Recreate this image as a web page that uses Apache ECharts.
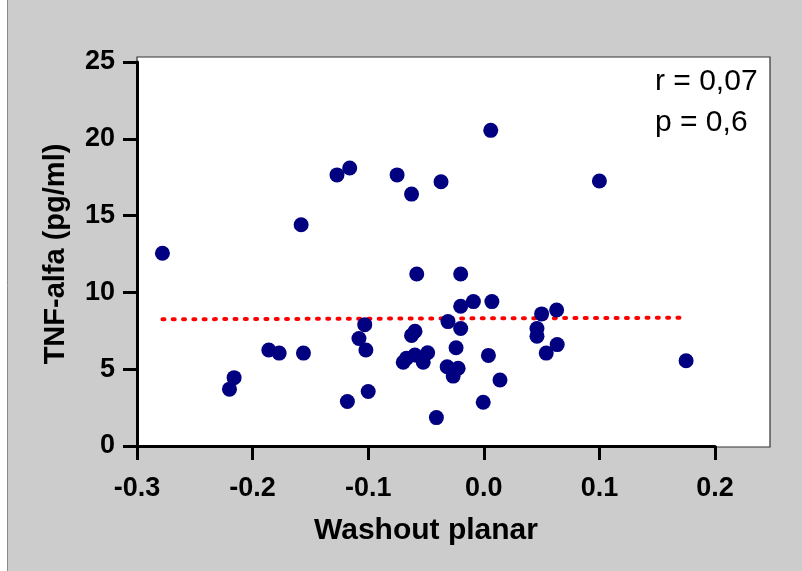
<!DOCTYPE html>
<html>
<head>
<meta charset="utf-8">
<script src="https://cdn.jsdelivr.net/npm/echarts@6/dist/echarts.min.js"></script>
<style>
html,body{margin:0;padding:0;background:#fff;}
#chart{width:802px;height:571px;}
</style>
</head>
<body>
<div id="chart"></div>
<script>
// Washout planar (x) vs TNF-alfa (pg/ml) (y)
const washout = [
  -0.278, -0.158, -0.127, -0.116, -0.075, -0.0625, -0.037, 0.006, 0.100,
  -0.058, -0.020, -0.103, -0.108, -0.102, -0.186, -0.177, -0.156, -0.216,
  -0.220, -0.118, -0.100, -0.041, -0.031, -0.0625, -0.0595, -0.0697, -0.0668,
  -0.0596, -0.0524, -0.0486, -0.0317, -0.0222, -0.0265, -0.020, -0.009, 0.007,
  -0.020, -0.024, 0.004, 0.014, -0.0005, 0.050, 0.063, 0.046, 0.046,
  0.054, 0.0635, 0.175
];
const tnfAlfa = [
  12.55, 14.4, 17.65, 18.1, 17.65, 16.4, 17.2, 20.55, 17.25,
  11.2, 11.2, 7.9, 7.0, 6.25, 6.25, 6.05, 6.05, 4.45,
  3.7, 2.9, 3.55, 1.85, 8.1, 7.2, 7.47, 5.45, 5.72,
  5.92, 5.45, 6.07, 5.16, 5.06, 4.55, 9.1, 9.4, 9.4,
  7.65, 6.4, 5.9, 4.3, 2.85, 8.6, 8.85, 7.65, 7.15,
  6.05, 6.6, 5.55
];
// regression line end points
const regX = [-0.278, 0.175];
const regY = [8.25, 8.35];
const xTicks = [-0.3, -0.2, -0.1, 0.0, 0.1, 0.2];
const yTicks = [0, 5, 10, 15, 20, 25];
const statLines = ['r = 0,07', 'p = 0,6'];

const chart = echarts.init(document.getElementById('chart'), null, {renderer: 'canvas'});
const pts = washout.map((x, i) => [x, tnfAlfa[i]]);
const reg = regX.map((x, i) => [x, regY[i]]);
const boldFont = 'Liberation Sans, Arial, sans-serif';

chart.setOption({
  backgroundColor: '#ffffff',
  animation: false,
  graphic: [
    {type: 'rect', z: -10, silent: true,
     shape: {x: 7.5, y: -2, width: 800, height: 580},
     style: {fill: '#cccccc', stroke: '#8a8a8a', lineWidth: 1}},
    {type: 'text', left: 655, top: 61, z: 10,
     style: {text: statLines.join('\n'), fill: '#000', font: '30px Liberation Sans, Arial, sans-serif', lineHeight: 41}}
  ],
  grid: [
    {left: 137, top: 57, width: 633, height: 390, show: true, backgroundColor: '#ffffff', borderColor: '#333', borderWidth: 1.2, z: 0},
    {left: 137, top: 62, width: 578, height: 384}
  ],
  xAxis: [
    {gridIndex: 0, type: 'value', show: false, min: 0, max: 1},
    {gridIndex: 1, type: 'value', min: xTicks[0], max: xTicks[xTicks.length - 1], interval: 0.1,
     name: 'Washout planar', nameLocation: 'middle', nameGap: 70,
     nameTextStyle: {fontFamily: boldFont, fontWeight: 'bold', fontSize: 30, color: '#000'},
     axisLine: {onZero: false, lineStyle: {color: '#000', width: 3}},
     axisTick: {inside: false, length: 14, lineStyle: {color: '#000', width: 3}},
     axisLabel: {margin: 29, fontFamily: boldFont, fontWeight: 'bold', fontSize: 27, color: '#000',
       formatter: v => v.toFixed(1)},
     splitLine: {show: false}}
  ],
  yAxis: [
    {gridIndex: 0, type: 'value', show: false, min: 0, max: 1},
    {gridIndex: 1, type: 'value', min: yTicks[0], max: yTicks[yTicks.length - 1], interval: 5,
     name: 'TNF-alfa (pg/ml)', nameLocation: 'middle', nameGap: 67, nameRotate: 90,
     nameTextStyle: {fontFamily: boldFont, fontWeight: 'bold', fontSize: 29, color: '#000'},
     axisLine: {onZero: false, lineStyle: {color: '#000', width: 3}},
     axisTick: {inside: false, length: 14, lineStyle: {color: '#000', width: 3}},
     axisLabel: {margin: 22, fontFamily: boldFont, fontWeight: 'bold', fontSize: 27, color: '#000'},
     splitLine: {show: false}}
  ],
  series: [
    {type: 'line', xAxisIndex: 1, yAxisIndex: 1, data: reg, symbol: 'none', z: 3,
     lineStyle: {color: '#ff0000', width: 4, type: [2, 8.3], cap: 'round'}},
    {type: 'scatter', xAxisIndex: 1, yAxisIndex: 1, data: pts, symbol: 'circle', symbolSize: 15, z: 4,
     itemStyle: {color: '#000080', opacity: 1}}
  ]
});
</script>
</body>
</html>
